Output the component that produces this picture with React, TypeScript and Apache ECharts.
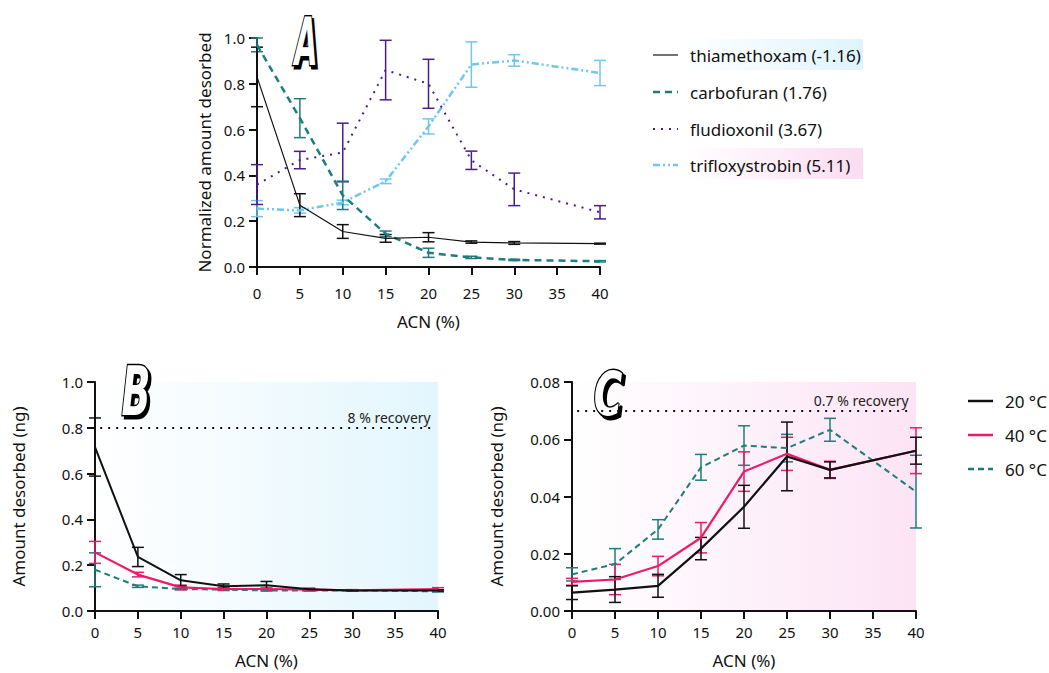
import React, { useEffect, useRef } from "react";
import * as echarts from "echarts";

// ---------- data ----------
const acn = [0, 5, 10, 15, 20, 25, 30, 40];

// Panel A (normalized amount desorbed)
const seriesNamesA = ["thiamethoxam (-1.16)", "carbofuran (1.76)", "fludioxonil (3.67)", "trifloxystrobin (5.11)"];
const thiaMean = [0.83, 0.27, 0.155, 0.125, 0.13, 0.109, 0.105, 0.102];
const thiaErr = [0.13, 0.05, 0.03, 0.017, 0.02, 0.005, 0.006, 0.002];
const carbMean = [0.97, 0.65, 0.313, 0.145, 0.062, 0.042, 0.031, 0.025];
const carbErr = [0.03, 0.085, 0.062, 0.012, 0.02, 0.005, 0.003, 0.003];
const fludMean = [0.36, 0.467, 0.5, 0.86, 0.8, 0.466, 0.339, 0.239];
const fludErr = [0.087, 0.038, 0.128, 0.13, 0.107, 0.04, 0.071, 0.029];
const triMean = [0.255, 0.247, 0.282, 0.374, 0.614, 0.884, 0.902, 0.847];
const triErr = [0.035, 0.012, 0.01, 0.01, 0.033, 0.099, 0.025, 0.055];

// Panel B and C (amount desorbed, ng)
const tempNames = ["20 °C", "40 °C", "60 °C"];
const b20 = [0.716, 0.236, 0.134, 0.108, 0.112, 0.095, 0.09, 0.09];
const b20Err = [0.127, 0.042, 0.025, 0.01, 0.017, 0.004, 0.003, 0.003];
const b40 = [0.256, 0.159, 0.103, 0.096, 0.096, 0.093, 0.09, 0.096];
const b40Err = [0.048, 0.01, 0.01, 0.006, 0.005, 0.003, 0.003, 0.006];
const b60 = [0.18, 0.108, 0.096, 0.093, 0.09, 0.09, 0.09, 0.086];
const b60Err = [0.074, 0.005, 0.003, 0.003, 0.003, 0.003, 0.002, 0.003];

const c20 = [0.0064, 0.0075, 0.0088, 0.0218, 0.0364, 0.054, 0.0493, 0.056];
const c20Err = [0.0024, 0.0045, 0.004, 0.0039, 0.0075, 0.012, 0.0028, 0.0047];
const c40 = [0.0102, 0.011, 0.0157, 0.0256, 0.0487, 0.0549, 0.0493, 0.056];
const c40Err = [0.0012, 0.0053, 0.0034, 0.0053, 0.0069, 0.0058, 0.003, 0.008];
const c60 = [0.0128, 0.0164, 0.0285, 0.0502, 0.0578, 0.0569, 0.0633, 0.0417];
const c60Err = [0.0023, 0.0054, 0.0034, 0.0045, 0.0069, 0.0048, 0.004, 0.0127];

const recoveryB = 0.8;
const recoveryC = 0.07;
const recoveryBLabel = "8 % recovery";
const recoveryCLabel = "0.7 % recovery";

// ---------- styles ----------
const FONT = '"Noto Sans", sans-serif';
const BLACK = "#111111";
const TEAL = "#1e7d7b";
const PURPLE = "#4a1d8c";
const LIGHTBLUE = "#6fc7ef";
const PINK = "#ee1a68";

const DASH_CARB = [7, 5];
const DASH_FLUD = [2, 6];
const DASH_TRI = [7, 3, 2, 3, 2, 3];
const DASH_60 = [6, 4];

const pair = (means: number[]) => acn.map((x, i) => [x, means[i]]);
const errData = (means: number[], errs: number[]) => acn.map((x, i) => [x, means[i] - errs[i], means[i] + errs[i]]);

function errorSeries(axisIdx: number, means: number[], errs: number[], color: string, z = 3) {
  return {
    type: "custom",
    name: "err" + axisIdx + color,
    xAxisIndex: axisIdx,
    yAxisIndex: axisIdx,
    z,
    silent: true,
    clip: false,
    encode: { x: 0, y: [1, 2] },
    data: errData(means, errs),
    renderItem: (_p: any, api: any) => {
      const x = api.value(0);
      const top = api.coord([x, api.value(2)]);
      const bot = api.coord([x, api.value(1)]);
      const w = 6;
      const st = { stroke: color, lineWidth: 1.5 };
      return {
        type: "group",
        children: [
          { type: "line", shape: { x1: top[0], y1: top[1], x2: bot[0], y2: bot[1] }, style: st },
          { type: "line", shape: { x1: top[0] - w, y1: top[1], x2: top[0] + w, y2: top[1] }, style: st },
          { type: "line", shape: { x1: bot[0] - w, y1: bot[1], x2: bot[0] + w, y2: bot[1] }, style: st },
        ],
      };
    },
  };
}

function lineSeries(axisIdx: number, name: string, means: number[], color: string, width: number, type: any, z = 4, extra: any = {}) {
  return {
    type: "line",
    name,
    xAxisIndex: axisIdx,
    yAxisIndex: axisIdx,
    data: pair(means),
    symbol: "none",
    z,
    lineStyle: { color, width, type, cap: "butt" },
    itemStyle: { color },
    ...extra,
  };
}

function xAxis(gridIndex: number, labelMargin: number, nameGap: number) {
  return {
    type: "value",
    gridIndex,
    min: 0,
    max: 40,
    interval: 5,
    name: "ACN (%)",
    nameLocation: "middle",
    nameGap,
    nameTextStyle: { fontFamily: FONT, fontSize: 17, color: BLACK },
    axisLine: { show: true, onZero: false, lineStyle: { color: BLACK, width: 2 } },
    axisTick: { show: true, length: 8, lineStyle: { color: BLACK, width: 2 } },
    axisLabel: { fontFamily: FONT, fontSize: 15, color: BLACK, margin: labelMargin },
    splitLine: { show: false },
  };
}

function yAxis(gridIndex: number, name: string, max: number, interval: number, digits: number, nameGap: number) {
  return {
    type: "value",
    gridIndex,
    min: 0,
    max,
    interval,
    name,
    nameLocation: "middle",
    nameGap,
    nameTextStyle: { fontFamily: FONT, fontSize: 17, color: BLACK },
    axisLine: { show: true, lineStyle: { color: BLACK, width: 2 } },
    axisTick: { show: true, length: 8, lineStyle: { color: BLACK, width: 2 } },
    axisLabel: { fontFamily: FONT, fontSize: 15, color: BLACK, margin: 12, formatter: (v: number) => v.toFixed(digits) },
    splitLine: { show: false },
  };
}

function recoveryMark(value: number, label: string) {
  return {
    symbol: "none",
    silent: true,
    animation: false,
    lineStyle: { color: BLACK, width: 2, type: [2, 6] },
    label: { show: true, position: "insideEndTop", formatter: label, fontFamily: FONT, fontSize: 14, color: "#222", distance: 3 },
    data: [[{ coord: [0.6, value] }, { coord: [39.5, value] }]],
  };
}

function letter(ch: string, cx: number, cy: number, size: number, scaleX: number) {
  const font = `italic bold ${size}px "DejaVu Sans Condensed", "DejaVu Sans", sans-serif`;
  return {
    type: "group",
    x: cx,
    y: cy,
    scaleX,
    z: 20,
    children: [
      { type: "text", x: 4, y: 3, style: { text: ch, font, fill: "#000", stroke: "#000", lineWidth: 3, align: "center", verticalAlign: "middle" } },
      { type: "text", x: 0, y: 0, style: { text: ch, font, fill: "#fff", stroke: "#000", lineWidth: 3, align: "center", verticalAlign: "middle" } },
    ],
  };
}

// legend entry drawn as graphic: sample line + text
function legendItem(x: number, y: number, text: string, color: string, width: number, dash: any) {
  return {
    type: "group",
    x,
    y,
    z: 10,
    children: [
      { type: "line", shape: { x1: 0, y1: 0, x2: 25, y2: 0 }, style: { stroke: color, lineWidth: width, lineDash: dash } },
      { type: "text", x: 37, y: 0, style: { text, font: `17px ${FONT}`, fill: BLACK, align: "left", verticalAlign: "middle" } },
    ],
  };
}

const hGrad = (c: string) =>
  new echarts.graphic.LinearGradient(0, 0, 1, 0, [
    { offset: 0, color: "#ffffff" },
    { offset: 1, color: c },
  ]);

export default function App() {
  const ref = useRef<HTMLDivElement>(null);
  useEffect(() => {
    document.body.style.margin = "0";
    if (!ref.current) return;
    const chart = echarts.init(ref.current, null, { renderer: "svg" });
    const option: any = {
      animation: false,
      backgroundColor: "#ffffff",
      grid: [
        { left: 257, top: 38, width: 343, height: 229, show: false },
        { left: 95, top: 382, width: 343, height: 229, show: true, borderWidth: 0, backgroundColor: hGrad("#e3f6fd") },
        { left: 572, top: 382, width: 344, height: 229, show: true, borderWidth: 0, backgroundColor: hGrad("#fce4f5") },
      ],
      xAxis: [xAxis(0, 18, 46), xAxis(1, 13, 41), xAxis(2, 13, 41)],
      yAxis: [
        yAxis(0, "Normalized amount desorbed", 1, 0.2, 1, 44),
        yAxis(1, "Amount desorbed (ng)", 1, 0.2, 1, 68),
        yAxis(2, "Amount desorbed (ng)", 0.08, 0.02, 2, 67),
      ],
      graphic: [
        { type: "rect", shape: { x: 686, y: 39, width: 177, height: 31 }, style: { fill: hGrad("#dff4fc") }, z: 0 },
        { type: "rect", shape: { x: 686, y: 148, width: 177, height: 31 }, style: { fill: hGrad("#fbdcf1") }, z: 0 },
        legendItem(653, 55, seriesNamesA[0], "#444", 1.5, null),
        legendItem(653, 92, seriesNamesA[1], TEAL, 2.5, DASH_CARB),
        legendItem(653, 129, seriesNamesA[2], PURPLE, 2, DASH_FLUD),
        legendItem(653, 165, seriesNamesA[3], LIGHTBLUE, 2.5, DASH_TRI),
        legendItem(968, 401, tempNames[0], BLACK, 2.5, null),
        legendItem(968, 435, tempNames[1], PINK, 2.5, null),
        legendItem(968, 469, tempNames[2], TEAL, 2.5, DASH_60),
        letter("A", 306, 42, 66, 0.5),
        letter("B", 136, 391, 68, 0.62),
        letter("C", 608, 394, 60, 0.72),
      ],
      series: [
        // Panel A
        lineSeries(0, seriesNamesA[3], triMean, LIGHTBLUE, 2.5, DASH_TRI, 4),
        lineSeries(0, seriesNamesA[2], fludMean, PURPLE, 2, DASH_FLUD, 4),
        lineSeries(0, seriesNamesA[1], carbMean, TEAL, 2.5, DASH_CARB, 4),
        lineSeries(0, seriesNamesA[0], thiaMean, BLACK, 1.2, "solid", 5),
        errorSeries(0, triMean, triErr, LIGHTBLUE),
        errorSeries(0, fludMean, fludErr, PURPLE),
        errorSeries(0, carbMean, carbErr, TEAL),
        errorSeries(0, thiaMean, thiaErr, BLACK),
        // Panel B
        lineSeries(1, tempNames[2], b60, TEAL, 2, DASH_60, 4),
        lineSeries(1, tempNames[1], b40, PINK, 2.2, "solid", 5),
        lineSeries(1, tempNames[0], b20, BLACK, 2, "solid", 6, { markLine: recoveryMark(recoveryB, recoveryBLabel) }),
        errorSeries(1, b60, b60Err, TEAL),
        errorSeries(1, b40, b40Err, PINK),
        errorSeries(1, b20, b20Err, BLACK),
        // Panel C
        lineSeries(2, tempNames[2], c60, TEAL, 2, DASH_60, 4),
        lineSeries(2, tempNames[1], c40, PINK, 2.2, "solid", 5),
        lineSeries(2, tempNames[0], c20, BLACK, 2.2, "solid", 6, { markLine: recoveryMark(recoveryC, recoveryCLabel) }),
        errorSeries(2, c60, c60Err, TEAL),
        errorSeries(2, c40, c40Err, PINK),
        errorSeries(2, c20, c20Err, BLACK),
      ],
    };
    chart.setOption(option);
    return () => chart.dispose();
  }, []);
  return <div ref={ref} style={{ width: 1049, height: 673 }} />;
}
